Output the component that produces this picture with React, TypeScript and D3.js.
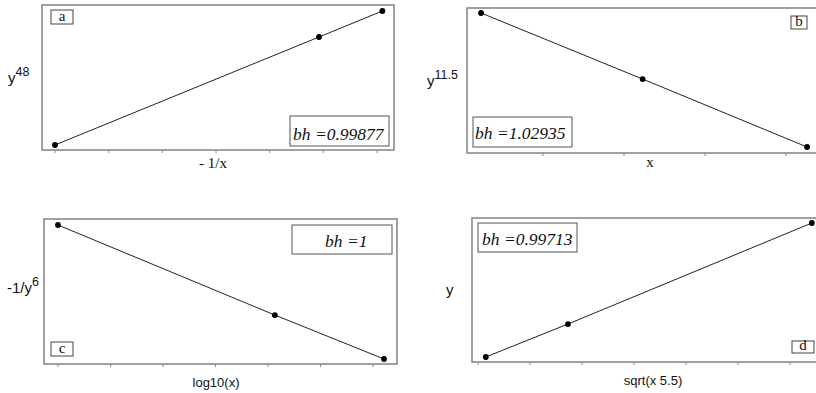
import React from "react";
import * as d3 from "d3";

// ---- data (values in tick units on x, normalised units on y) ----
const aX = [0, 4.92, 6.1];
const aY = [0, 8.06, 10];
const bX = [0.235, 2.23, 4.26];
const bY = [10, 5.07, 0];
const cX = [0, 4.13, 6.21];
const cY = [10, 3.28, 0];
const dX = [0.15, 1.73, 6.42];
const dY = [0, 2.46, 10];

const aTicks = [0, 1, 2, 3, 4, 5, 6];
const bTicks = [1, 2, 3, 4];
const cTicks = [0, 1, 2, 3, 4, 5, 6];
const dTicks = [0, 1, 2, 3, 4, 5, 6];

const fitLabels = ["bh =0.99877", "bh =1.02935", "bh =1", "bh =0.99713"];
const panelLetters = ["a", "b", "c", "d"];
const xTitles = ["- 1/x", "x", "log10(x)", "sqrt(x 5.5)"];

type Panel = {
  xs: number[];
  ys: number[];
  ticks: number[];
  frame: [number, number, number, number];
  xDom: [number, number];
  xRange: [number, number];
  yRange: [number, number];
  letter: string;
  letterBox: [number, number, number, number];
  fit: string;
  fitBox: [number, number, number, number];
  fitText: [number, number];
  xTitle: string;
  xTitlePos: [number, number];
  xTitleSerif: boolean;
  yLabel: { base: string; sup: string; x: number; y: number };
};

const panels: Panel[] = [
  {
    xs: aX, ys: aY, ticks: aTicks,
    frame: [42, 5, 394, 150],
    xDom: [0, 6], xRange: [55, 377], yRange: [145, 11],
    letter: panelLetters[0], letterBox: [51, 10, 22, 14],
    fit: fitLabels[0], fitBox: [290, 116, 99, 30], fitText: [293, 140],
    xTitle: xTitles[0], xTitlePos: [213, 168], xTitleSerif: true,
    yLabel: { base: "y", sup: "48", x: 8, y: 83 },
  },
  {
    xs: bX, ys: bY, ticks: bTicks,
    frame: [467, 8, 830, 153],
    xDom: [1, 4], xRange: [543, 786], yRange: [147, 13],
    letter: panelLetters[1], letterBox: [791, 16, 16, 13],
    fit: fitLabels[1], fitBox: [473, 117, 99, 30], fitText: [475, 139],
    xTitle: xTitles[1], xTitlePos: [650, 167], xTitleSerif: true,
    yLabel: { base: "y", sup: "11.5", x: 427, y: 86 },
  },
  {
    xs: cX, ys: cY, ticks: cTicks,
    frame: [44, 219, 397, 364],
    xDom: [0, 6], xRange: [58, 373], yRange: [359, 225],
    letter: panelLetters[2], letterBox: [51, 342, 22, 14],
    fit: fitLabels[2], fitBox: [292, 225, 100, 29], fitText: [325, 247],
    xTitle: xTitles[2], xTitlePos: [216, 387], xTitleSerif: false,
    yLabel: { base: "-1/y", sup: "6", x: 7, y: 293 },
  },
  {
    xs: dX, ys: dY, ticks: dTicks,
    frame: [472, 218, 830, 362],
    xDom: [0, 6], xRange: [478, 790], yRange: [357, 223],
    letter: panelLetters[3], letterBox: [792, 341, 22, 12],
    fit: fitLabels[3], fitBox: [478, 223, 99, 29], fitText: [482, 245],
    xTitle: xTitles[3], xTitlePos: [653, 385], xTitleSerif: false,
    yLabel: { base: "y", sup: "", x: 446, y: 295 },
  },
];

const SERIF = "'Liberation Serif', 'Times New Roman', serif";
const SANS = "'Liberation Sans', Arial, sans-serif";

function PanelView({ p }: { p: Panel }) {
  const x = d3.scaleLinear().domain(p.xDom).range(p.xRange);
  const y = d3.scaleLinear().domain([0, 10]).range(p.yRange);
  const pts = p.xs.map((v, i) => [v, p.ys[i]] as [number, number]);
  const line = d3.line<[number, number]>().x((d) => x(d[0])).y((d) => y(d[1]));
  const [fx0, fy0, fx1, fy1] = p.frame;
  return (
    <g>
      <rect x={fx0} y={fy0} width={fx1 - fx0} height={fy1 - fy0} fill="white" stroke="#8a8a8a" strokeWidth={1.6} />
      {p.ticks.map((t) => (
        <line key={t} x1={x(t)} x2={x(t)} y1={fy1} y2={fy1 + 3} stroke="#8a8a8a" strokeWidth={1} />
      ))}
      <path d={line(pts) || ""} fill="none" stroke="#222" strokeWidth={1} />
      {pts.map((d, i) => (
        <circle key={i} cx={x(d[0])} cy={y(d[1])} r={2.9} fill="#000" />
      ))}
      <rect x={p.letterBox[0]} y={p.letterBox[1]} width={p.letterBox[2]} height={p.letterBox[3]} fill="white" stroke="#444" strokeWidth={1} />
      <text x={p.letterBox[0] + p.letterBox[2] / 2} y={p.letterBox[1] + p.letterBox[3] - 3} textAnchor="middle" fontFamily={SERIF} fontSize={15} fill="#111">
        {p.letter}
      </text>
      <rect x={p.fitBox[0]} y={p.fitBox[1]} width={p.fitBox[2]} height={p.fitBox[3]} fill="white" stroke="#555" strokeWidth={1} />
      <text x={p.fitText[0]} y={p.fitText[1]} fontFamily={SERIF} fontStyle="italic" fontSize={17.5} fill="#111">
        {p.fit}
      </text>
      <text x={p.xTitlePos[0]} y={p.xTitlePos[1]} textAnchor="middle" fontFamily={p.xTitleSerif ? SERIF : SANS} fontSize={p.xTitleSerif ? 15 : 13} fill="#111">
        {p.xTitle}
      </text>
      <text x={p.yLabel.x} y={p.yLabel.y} fontFamily={SANS} fontSize={15} fill="#111">
        {p.yLabel.base}
        {p.yLabel.sup && (
          <tspan dy={-7} fontSize={12.5}>{p.yLabel.sup}</tspan>
        )}
      </text>
    </g>
  );
}

export default function App() {
  return (
    <svg width={816} height={393} style={{ position: "absolute", left: 0, top: 0, background: "white" }}>
      <rect x={0} y={0} width={816} height={393} fill="white" />
      {panels.map((p, i) => (
        <PanelView key={i} p={p} />
      ))}
    </svg>
  );
}
